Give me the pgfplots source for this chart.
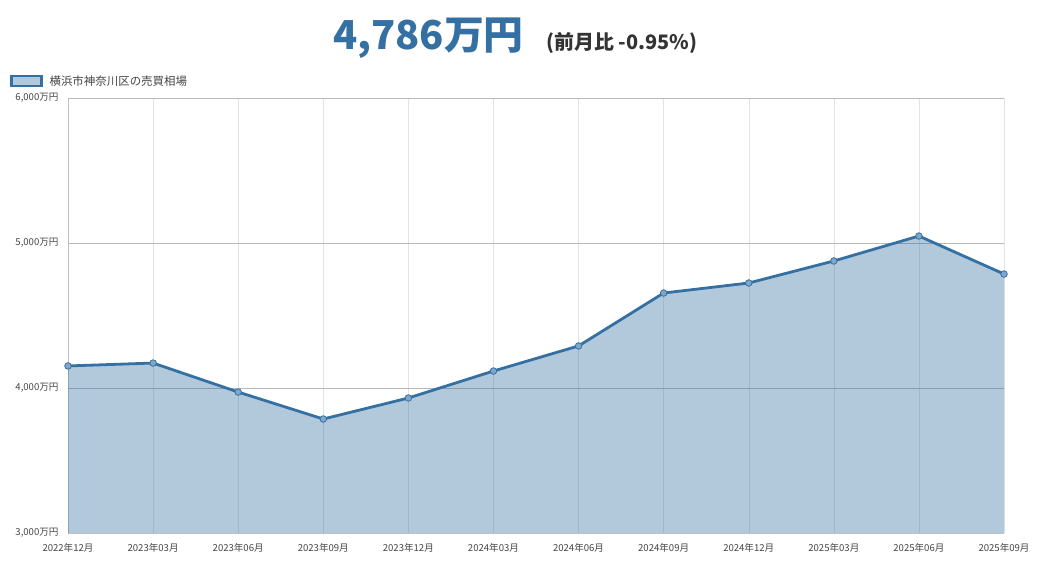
\documentclass[border=0pt]{standalone}
\usepackage{fontspec}
\setmainfont{Noto Sans CJK JP}
\usepackage{pgfplots}
\pgfplotsset{compat=1.18}
\definecolor{lineblue}{HTML}{3570A3}
\definecolor{markfill}{HTML}{7FA6CB}
\definecolor{tickgray}{HTML}{444444}

\begin{document}
\begin{tikzpicture}[x=1bp,y=1bp]
\path (0,0) rectangle (1042,564);
% title
\node[font=\bfseries\fontsize{40}{40}\selectfont, text=lineblue, anchor=base east, inner sep=0] at (524,514) {4,786万円};
\node[font=\bfseries\fontsize{20}{20}\selectfont, text=black!80, anchor=base west, inner sep=0] at (546,514) {(前月比 -0.95\%)};

\begin{axis}[
    at={(68bp,31bp)}, anchor=south west,
    scale only axis, width=936bp, height=435bp,
    xmin=0, xmax=11, ymin=3000, ymax=6000,
    xtick={0,...,11},
    xticklabels={2022年12月,2023年03月,2023年06月,2023年09月,2023年12月,2024年03月,2024年06月,2024年09月,2024年12月,2025年03月,2025年06月,2025年09月},
    ytick={3000,4000,5000,6000},
    yticklabels={{3,000万円},{4,000万円},{5,000万円},{6,000万円}},
    xmajorgrids, ymajorgrids,
    x grid style={gray!22},
    y grid style={gray!55},
    axis lines*=left,
    axis line style={gray!50},
    major tick length=0pt,
    tick label style={font=\fontsize{9.6}{11}\selectfont, text=tickgray},
    xticklabel style={yshift=-7bp},
    yticklabel style={xshift=-6bp},
    clip=false,
    legend style={at={(axis description cs:-0.062,1.039)}, anchor=west,
        draw=none, fill=none, font=\fontsize{11.5}{13}\selectfont, text=tickgray,
        inner sep=0pt},
    legend cell align=left,
]
\addplot[draw=none, fill=lineblue, fill opacity=0.38,
    legend image code/.code={\draw[line width=2.8bp, lineblue, fill=lineblue!38, fill opacity=1] (0bp,-5bp) rectangle (30bp,5bp);\path (34bp,0) -- (36bp,0);}]
    coordinates {
    (0,4152) (1,4172) (2,3972) (3,3786) (4,3931) (5,4117)
    (6,4290) (7,4655) (8,4724) (9,4876) (10,5048) (11,4786)
    } \closedcycle;
\addlegendentry{横浜市神奈川区の売買相場}
\addplot[forget plot, lineblue, line width=2.8bp, mark=*,
    mark options={fill=markfill, draw=lineblue, line width=0.8bp}, mark size=3.3bp]
    coordinates {
    (0,4152) (1,4172) (2,3972) (3,3786) (4,3931) (5,4117)
    (6,4290) (7,4655) (8,4724) (9,4876) (10,5048) (11,4786)
    };
\end{axis}
\end{tikzpicture}
\end{document}
